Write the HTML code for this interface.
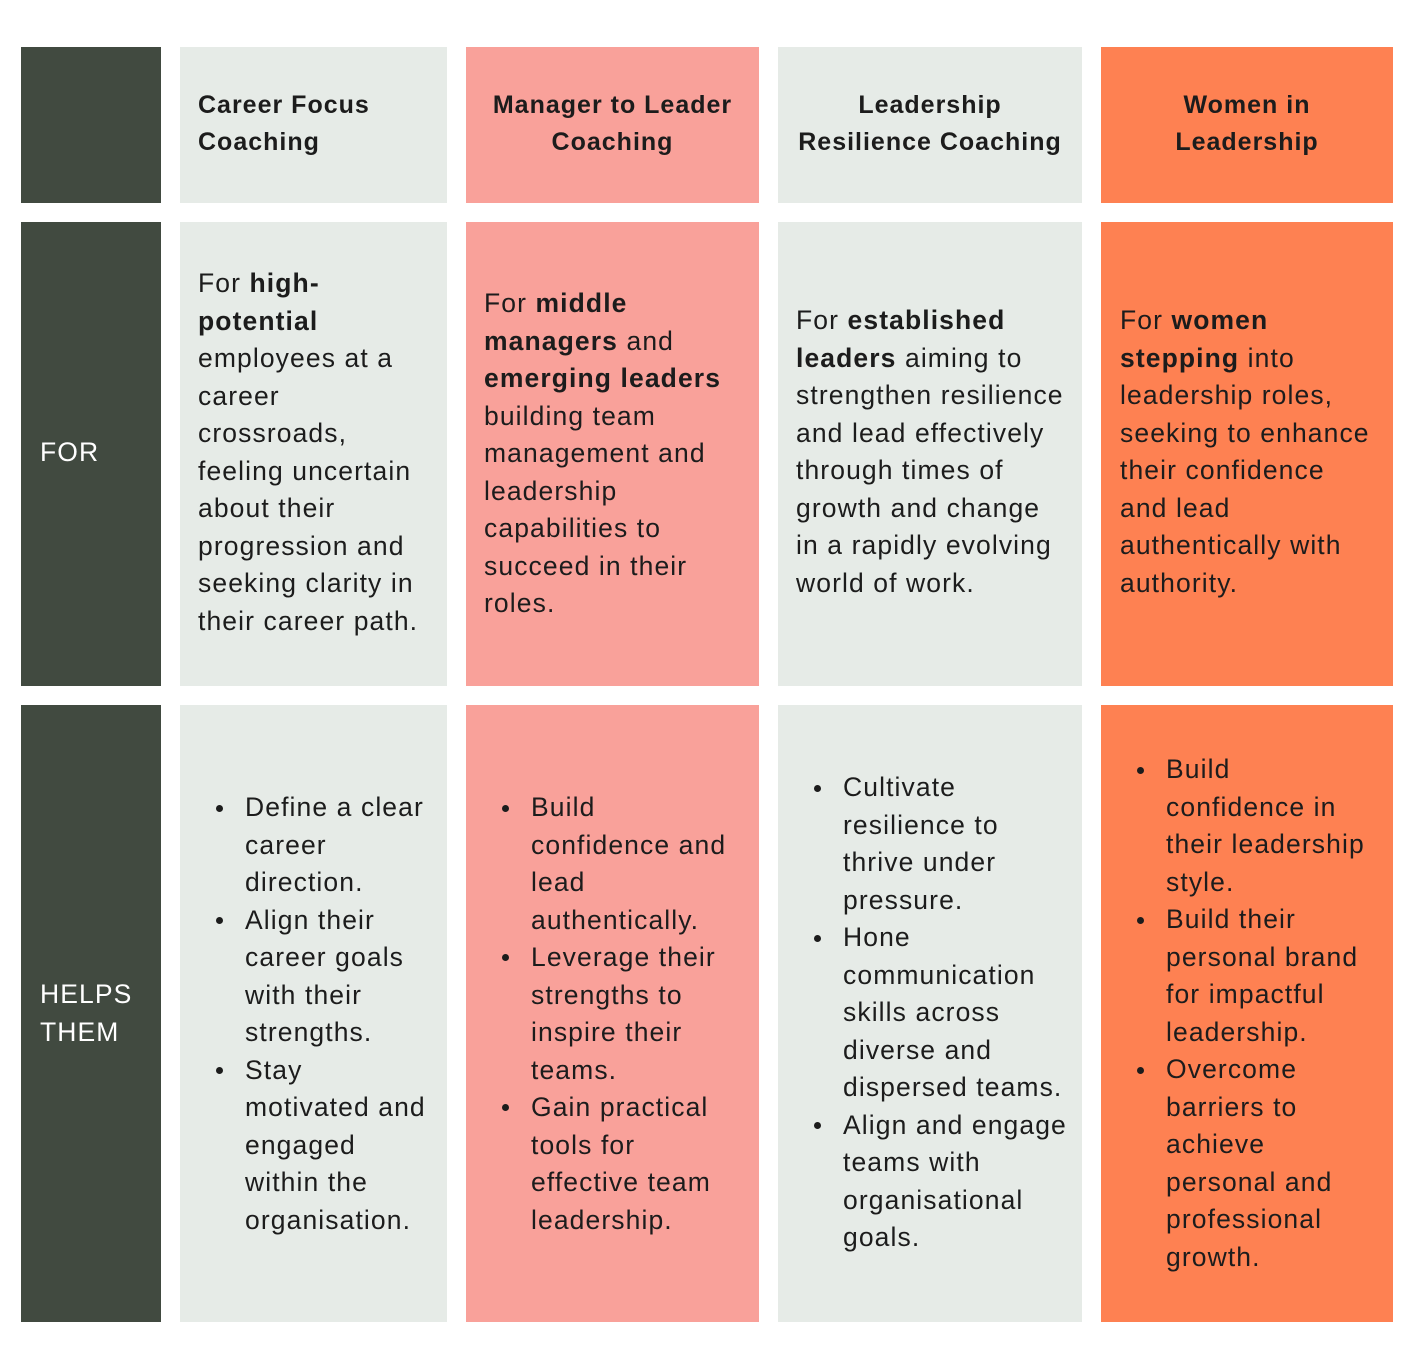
<!DOCTYPE html>
<html><head><meta charset="utf-8">
<style>
body{margin:0;width:1414px;height:1360px;background:#fff;position:relative;font-family:"Liberation Sans",sans-serif;color:#1c1c1c;overflow:hidden}
.c{position:absolute}
.d{background:#414a40}.g{background:#e6ebe7}.p{background:#f9a19a}.o{background:#fe8152}
.t{position:absolute;font-size:26.5px;letter-spacing:1.1px;line-height:37.5px;white-space:nowrap}
.h{position:absolute;font-size:25px;letter-spacing:1px;line-height:37px;font-weight:bold;white-space:nowrap}
.w{color:#fff}
.b{position:absolute;width:7px;height:7px;border-radius:50%;background:#1c1c1c}
</style></head><body>
<div class="c d" style="left:21px;top:47px;width:140px;height:156px"></div>
<div class="c g" style="left:180px;top:47px;width:267px;height:156px"></div>
<div class="c p" style="left:466px;top:47px;width:293px;height:156px"></div>
<div class="c g" style="left:778px;top:47px;width:304px;height:156px"></div>
<div class="c o" style="left:1101px;top:47px;width:292px;height:156px"></div>

<div class="c d" style="left:21px;top:222px;width:140px;height:464px"></div>
<div class="c g" style="left:180px;top:222px;width:267px;height:464px"></div>
<div class="c p" style="left:466px;top:222px;width:293px;height:464px"></div>
<div class="c g" style="left:778px;top:222px;width:304px;height:464px"></div>
<div class="c o" style="left:1101px;top:222px;width:292px;height:464px"></div>

<div class="c d" style="left:21px;top:705px;width:140px;height:617px"></div>
<div class="c g" style="left:180px;top:705px;width:267px;height:617px"></div>
<div class="c p" style="left:466px;top:705px;width:293px;height:617px"></div>
<div class="c g" style="left:778px;top:705px;width:304px;height:617px"></div>
<div class="c o" style="left:1101px;top:705px;width:292px;height:617px"></div>

<div class="h" style="left:198px;top:87px">Career Focus<br>Coaching</div>
<div class="h" style="left:466px;width:293px;text-align:center;top:87px">Manager to Leader<br>Coaching</div>
<div class="h" style="left:778px;width:304px;text-align:center;top:87px">Leadership<br>Resilience Coaching</div>
<div class="h" style="left:1101px;width:292px;text-align:center;top:87px">Women in<br>Leadership</div>

<div class="t w" style="left:40px;top:434px">FOR</div>
<div class="t w" style="left:40px;top:976px">HELPS<br>THEM</div>

<div class="t" style="left:198px;top:265px">For <b>high-</b><br><b>potential</b><br>employees at a<br>career<br>crossroads,<br>feeling uncertain<br>about their<br>progression and<br>seeking clarity in<br>their career path.</div>
<div class="t" style="left:484px;top:285px">For <b>middle</b><br><b>managers</b> and<br><b>emerging leaders</b><br>building team<br>management and<br>leadership<br>capabilities to<br>succeed in their<br>roles.</div>
<div class="t" style="left:796px;top:302px">For <b>established</b><br><b>leaders</b> aiming to<br>strengthen resilience<br>and lead effectively<br>through times of<br>growth and change<br>in a rapidly evolving<br>world of work.</div>
<div class="t" style="left:1120px;top:302px">For <b>women</b><br><b>stepping</b> into<br>leadership roles,<br>seeking to enhance<br>their confidence<br>and lead<br>authentically with<br>authority.</div>

<div class="t" style="left:245px;top:789px">Define a clear<br>career<br>direction.<br>Align their<br>career goals<br>with their<br>strengths.<br>Stay<br>motivated and<br>engaged<br>within the<br>organisation.</div>
<div class="b" style="left:216px;top:805px"></div><div class="b" style="left:216px;top:917px"></div><div class="b" style="left:216px;top:1067px"></div>

<div class="t" style="left:531px;top:789px">Build<br>confidence and<br>lead<br>authentically.<br>Leverage their<br>strengths to<br>inspire their<br>teams.<br>Gain practical<br>tools for<br>effective team<br>leadership.</div>
<div class="b" style="left:502px;top:805px"></div><div class="b" style="left:502px;top:954px"></div><div class="b" style="left:502px;top:1104px"></div>

<div class="t" style="left:843px;top:769px">Cultivate<br>resilience to<br>thrive under<br>pressure.<br>Hone<br>communication<br>skills across<br>diverse and<br>dispersed teams.<br>Align and engage<br>teams with<br>organisational<br>goals.</div>
<div class="b" style="left:814px;top:785px"></div><div class="b" style="left:814px;top:935px"></div><div class="b" style="left:814px;top:1122px"></div>

<div class="t" style="left:1166px;top:751px">Build<br>confidence in<br>their leadership<br>style.<br>Build their<br>personal brand<br>for impactful<br>leadership.<br>Overcome<br>barriers to<br>achieve<br>personal and<br>professional<br>growth.</div>
<div class="b" style="left:1137px;top:767px"></div><div class="b" style="left:1137px;top:917px"></div><div class="b" style="left:1137px;top:1067px"></div>
</body></html>
